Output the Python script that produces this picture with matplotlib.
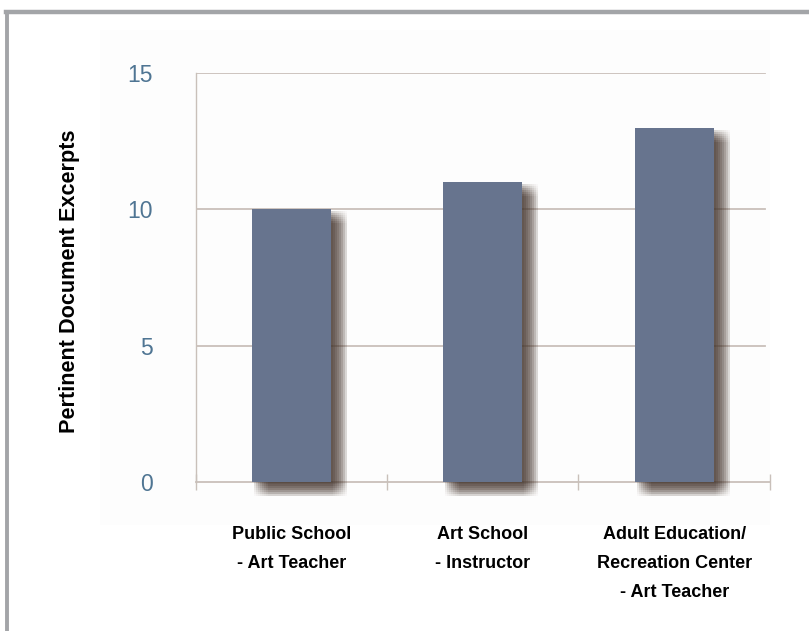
import matplotlib
matplotlib.use("Agg")
import matplotlib.pyplot as plt
import matplotlib.patheffects as pe
from matplotlib.patches import Rectangle
from matplotlib.lines import Line2D

# data
categories = ["Public School\n- Art Teacher",
              "Art School\n- Instructor",
              "Adult Education/\nRecreation Center\n- Art Teacher"]
values = [10, 11, 13]
yticks = [0, 5, 10, 15]

bar_color = "#67748e"
grid_color = "#c9c0ba"
tick_color = "#4f7593"

fig = plt.figure(figsize=(8.09, 6.31), dpi=100)
fig.patch.set_facecolor("white")

# faint panel + grey frame (top and left edges)
fig.add_artist(Rectangle((100 / 809, 1 - 525 / 631), 670 / 809, 495 / 631,
                         transform=fig.transFigure, facecolor="#fdfdfd",
                         edgecolor="none", zorder=0))
fig.add_artist(Line2D([6 / 809, 1], [1 - 12 / 631, 1 - 12 / 631],
                      transform=fig.transFigure, color="#a3a5a8", lw=3.2))
fig.add_artist(Line2D([6.5 / 809, 6.5 / 809], [0, 1 - 12 / 631],
                      transform=fig.transFigure, color="#a3a5a8", lw=2.8))

ax = fig.add_axes([195.5 / 809, 1 - 482 / 631, 574.5 / 809, 409 / 631])
ax.set_facecolor("none")

x = list(range(len(categories)))
ax.set_xlim(-0.5, len(categories) - 0.5)
ax.set_ylim(0, 15)

for t in yticks[1:]:
    ax.axhline(t, xmin=0, xmax=0.992, color=grid_color, lw=1.3, zorder=1)

# blurred drop shadow made from stacked offset copies
shadow = []
for dx in range(2, 18, 2):
    for dy in range(2, 16, 2):
        shadow.append(pe.SimplePatchShadow(offset=(dx * 0.72, -dy * 0.72),
                                           shadow_rgbFace="#4a3b32", alpha=0.028))
shadow.append(pe.Normal())

bars = ax.bar(x, values, width=0.41, color=bar_color, zorder=3, clip_on=False)
for b in bars:
    b.set_path_effects(shadow)

for s in ["top", "right"]:
    ax.spines[s].set_visible(False)
ax.spines["left"].set_color(grid_color)
ax.spines["left"].set_linewidth(1.0)
ax.spines["bottom"].set_color(grid_color)
ax.spines["bottom"].set_linewidth(1.3)
ax.spines["bottom"].set_zorder(2)

ax.set_yticks(yticks)
ax.set_yticklabels([str(t) for t in yticks], color=tick_color, fontsize=16.5,
                   family="Liberation Sans")
ax.tick_params(axis="y", length=0, pad=31)

ax.set_xticks([-0.5, 0.5, 1.5, 2.5])
ax.set_xticklabels([])
ax.tick_params(axis="x", direction="inout", length=11, width=1.0, color=grid_color)

for xi, lab in zip(x, categories):
    ax.text(xi, -1.62, lab, ha="center", va="top", fontsize=13,
            fontweight="bold", linespacing=1.9,
            family=["Liberation Sans Narrow", "Liberation Sans"])

fig.text(70 / 809, 1 - 281 / 631, "Pertinent Document Excerpts", rotation=90,
         ha="center", va="center", fontsize=15.6, fontweight="bold",
         family="Liberation Sans")

fig.savefig("out.png", dpi=100)
